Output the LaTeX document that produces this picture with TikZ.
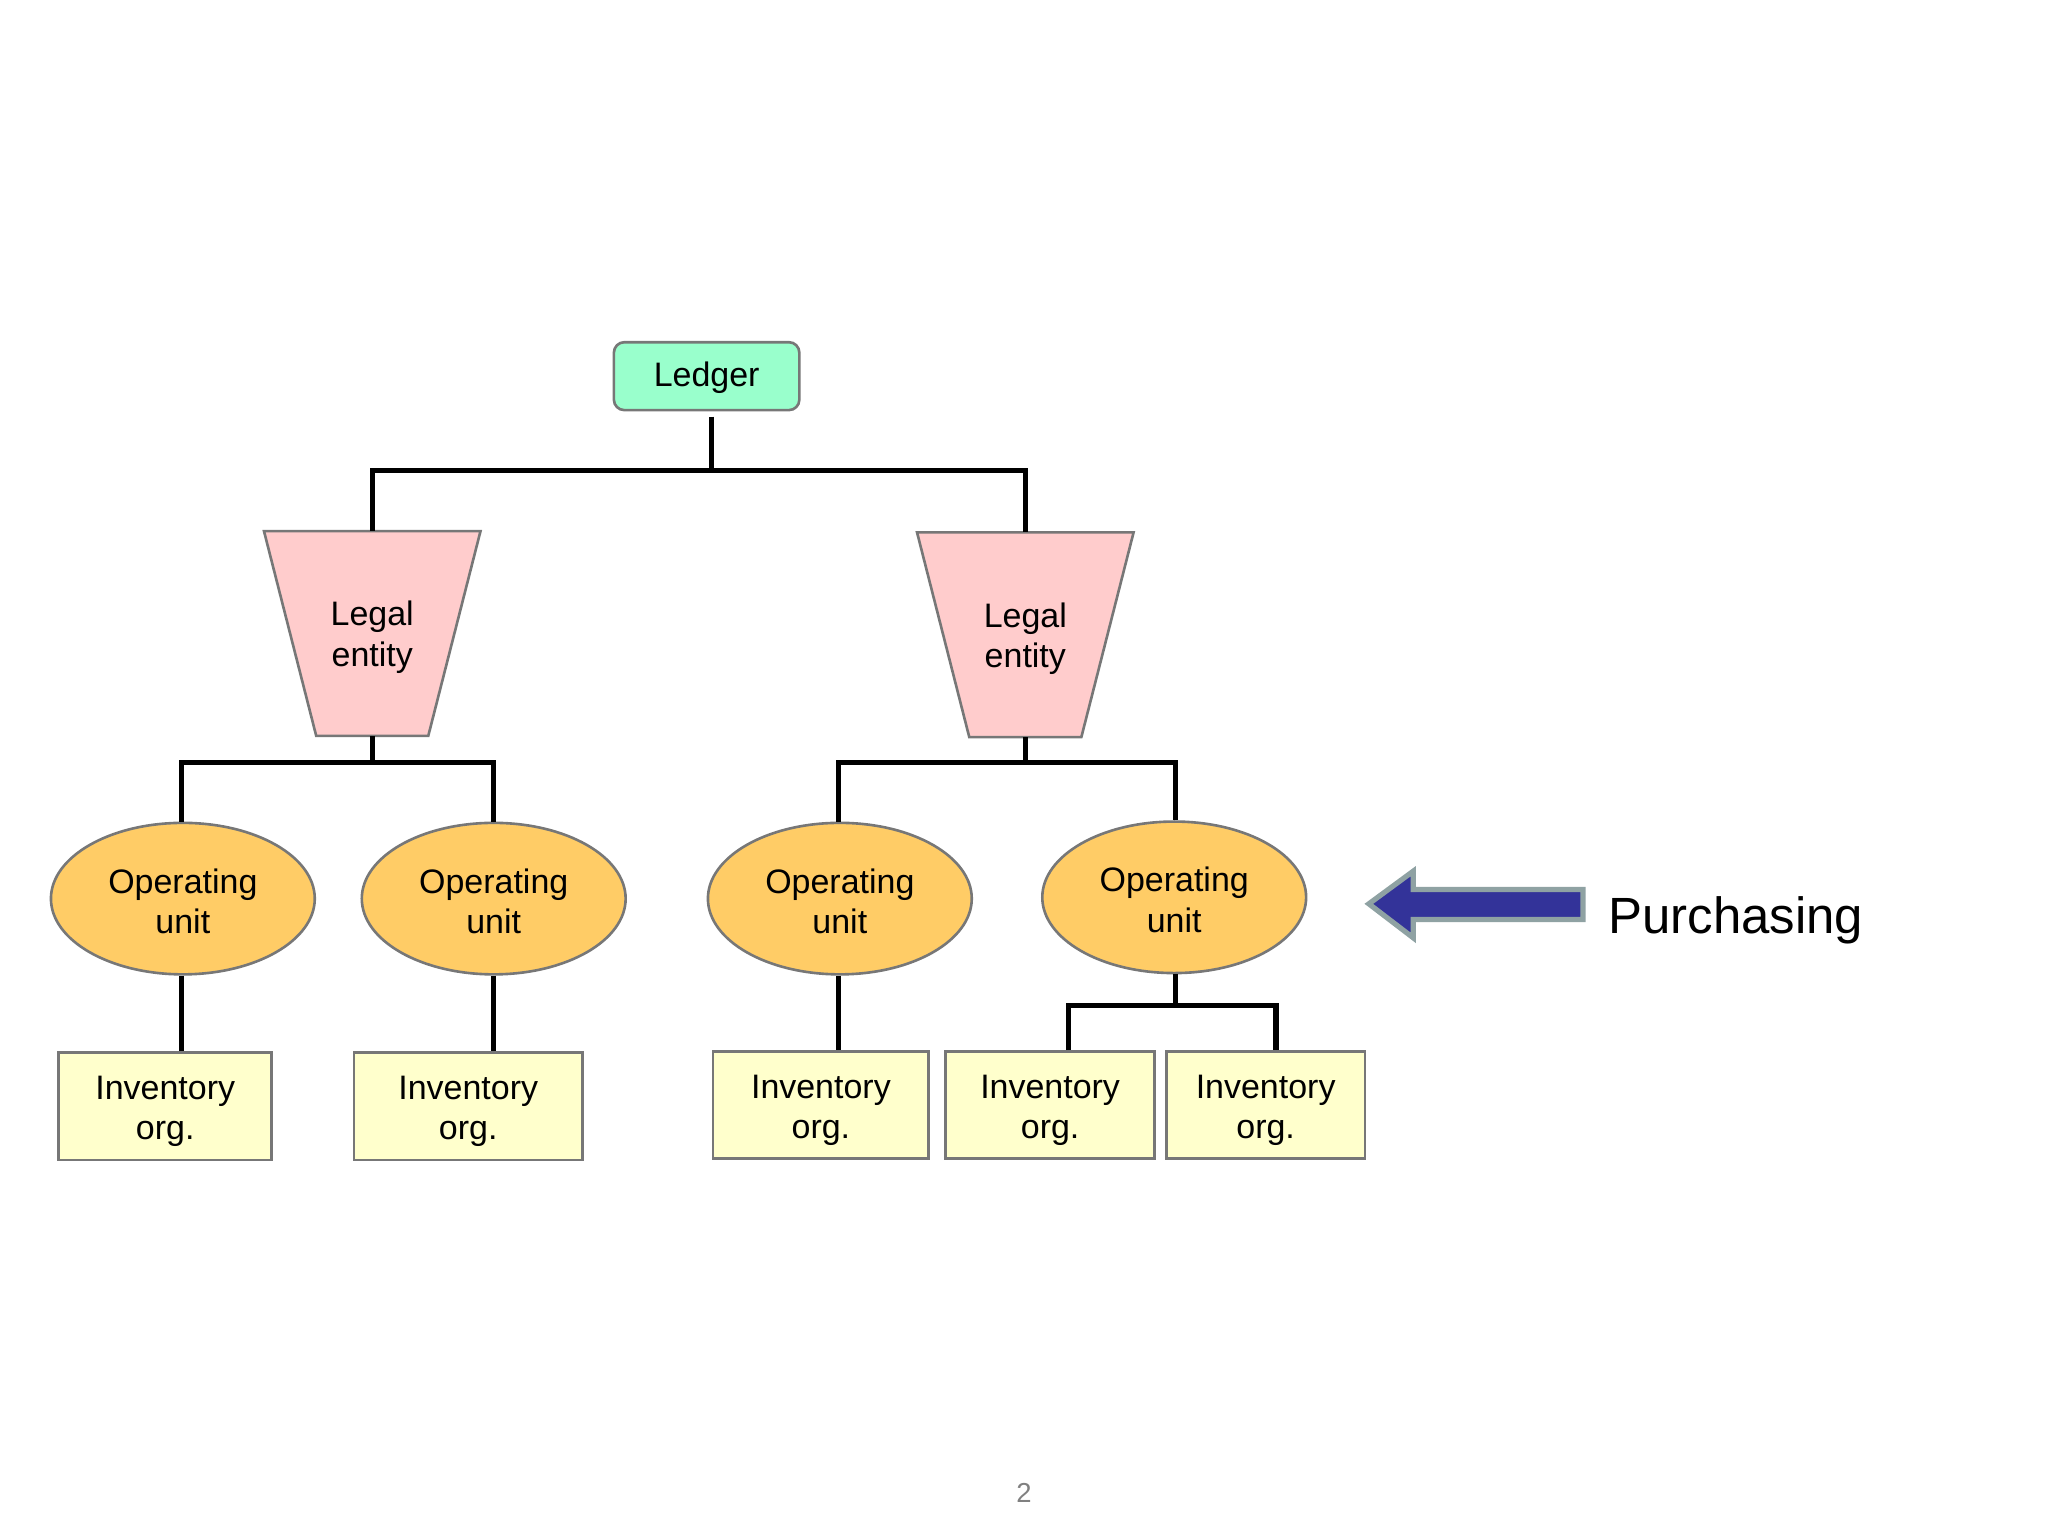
\documentclass[tikz,border=0pt]{standalone}
\usepackage{fontspec}
\setmainfont{Liberation Sans}
\usetikzlibrary{shapes.geometric,backgrounds}
\definecolor{ledgerfill}{HTML}{99FFCC}
\definecolor{lefill}{HTML}{FFCCCC}
\definecolor{oufill}{HTML}{FFCC66}
\definecolor{iofill}{HTML}{FFFFCC}
\definecolor{bordergray}{HTML}{777777}
\definecolor{arrowfill}{HTML}{333399}
\definecolor{arrowborder}{HTML}{8FA2A3}
\definecolor{pagegray}{HTML}{808080}
\tikzset{
  lbl/.style={inner sep=0pt, align=center, font=\fontsize{13}{15.5}\selectfont, text=black},
  base/.style={draw=bordergray, line width=1pt, inner sep=0pt},
  ledgerbox/.style={base, rectangle, rounded corners=4pt, fill=ledgerfill,
    minimum width=71pt, minimum height=26pt},
  legalbox/.style={rectangle, inner sep=0pt, minimum width=82.5pt, minimum height=78pt},
  trapshape/.style={draw=bordergray, line width=1pt, fill=lefill, line join=miter},
  opunit/.style={base, ellipse, fill=oufill, minimum width=101pt, minimum height=58pt},
  invbox/.style={base, rectangle, fill=iofill, minimum height=41pt},
  conn/.style={line width=2pt, black, line join=miter},
}
\begin{document}
\begin{tikzpicture}[x=0.5pt, y=-0.5pt]
\useasboundingbox (0,0) rectangle (1568,1176);
% nodes
\node[ledgerbox, label={[lbl, yshift=-0.5pt]center:Ledger}] (L) at (541,288) {};
\node[legalbox, label={[lbl, yshift=-1.5pt]center:{Legal\\entity}}] (LE1) at (285,485) {};
\node[legalbox, label={[lbl, yshift=-1.5pt]center:{Legal\\entity}}] (LE2) at (785,486) {};
\node[opunit, label={[lbl, yshift=-1pt]center:{Operating\\unit}}] (OU1) at (140,688) {};
\node[opunit, label={[lbl, yshift=-1pt]center:{Operating\\unit}}] (OU2) at (378,688) {};
\node[opunit, label={[lbl, yshift=-1pt]center:{Operating\\unit}}] (OU3) at (643,688) {};
\node[opunit, label={[lbl, yshift=-1pt]center:{Operating\\unit}}] (OU4) at (899,687) {};
\node[invbox, minimum width=81.5pt, label={[lbl, yshift=-2pt]center:{Inventory\\org.}}] (IO1) at (126.5,847) {};
\node[invbox, minimum width=87.5pt, label={[lbl, yshift=-2pt]center:{Inventory\\org.}}] (IO2) at (358.5,847) {};
\node[invbox, minimum width=82.5pt, label={[lbl, yshift=-2pt]center:{Inventory\\org.}}] (IO3) at (628.5,846) {};
\node[invbox, minimum width=80pt, label={[lbl, yshift=-2pt]center:{Inventory\\org.}}] (IO4) at (804,846) {};
\node[invbox, minimum width=76pt, label={[lbl, yshift=-2pt]center:{Inventory\\org.}}] (IO5) at (969,846) {};
% legal entity trapezoids
\begin{pgfonlayer}{background}
\foreach \n in {LE1,LE2}
  \draw[trapshape] (\n.north west) -- (\n.north east) -- ([xshift=-20pt]\n.south east)
    -- ([xshift=20pt]\n.south west) -- cycle;
\end{pgfonlayer}
% bus coordinates
\coordinate (bus1) at (545,360);
\coordinate (bus2) at (285,584);
\coordinate (bus3) at (785,584);
\coordinate (bus4) at (900,770);
% connectors
\draw[conn] ([yshift=-2pt]L.south -| bus1) -- (bus1);
\draw[conn] (LE1) -- (LE1 |- bus1) -- (LE2 |- bus1) -- (LE2);
\draw[conn] (LE1) -- (bus2);
\draw[conn] (LE2) -- (bus3);
\draw[conn] ([xshift=-0.5pt]OU1.north) -- ([xshift=-0.5pt]OU1.north |- bus2) -- (OU2.north |- bus2) -- (OU2.north);
\draw[conn] ([xshift=-0.5pt]OU3.north) -- ([xshift=-0.5pt]OU3.north |- bus3) -- ([xshift=0.5pt]OU4.north |- bus3) -- ([xshift=0.5pt]OU4.north);
\draw[conn] ([xshift=-0.5pt]OU1.south) -- ([xshift=-0.5pt]OU1.south |- IO1.north);
\draw[conn] (OU2.south) -- (OU2.south |- IO2.north);
\draw[conn] ([xshift=-0.5pt]OU3.south) -- ([xshift=-0.5pt]OU3.south |- IO3.north);
\draw[conn] ([xshift=0.5pt]OU4.south) -- (bus4);
\draw[conn] (IO4.north -| 818,0) -- (818,770) -- (977,770) -- (IO5.north -| 977,0);
% purchasing arrow
\draw[draw=arrowborder, fill=arrowfill, line width=2pt, line join=miter]
  (1048,692) -- (1082,667) -- (1082,681) -- (1212,681) -- (1212,704)
  -- (1082,704) -- (1082,718) -- cycle;
\node[anchor=west, font=\fontsize{19.5}{23}\selectfont, inner sep=0pt] (P) at (1231,705) {Purchasing};
% page number
\node[font=\fontsize{10.5}{12}\selectfont, text=pagegray, inner sep=0pt] (pg) at (784,1143) {2};
\end{tikzpicture}
\end{document}
